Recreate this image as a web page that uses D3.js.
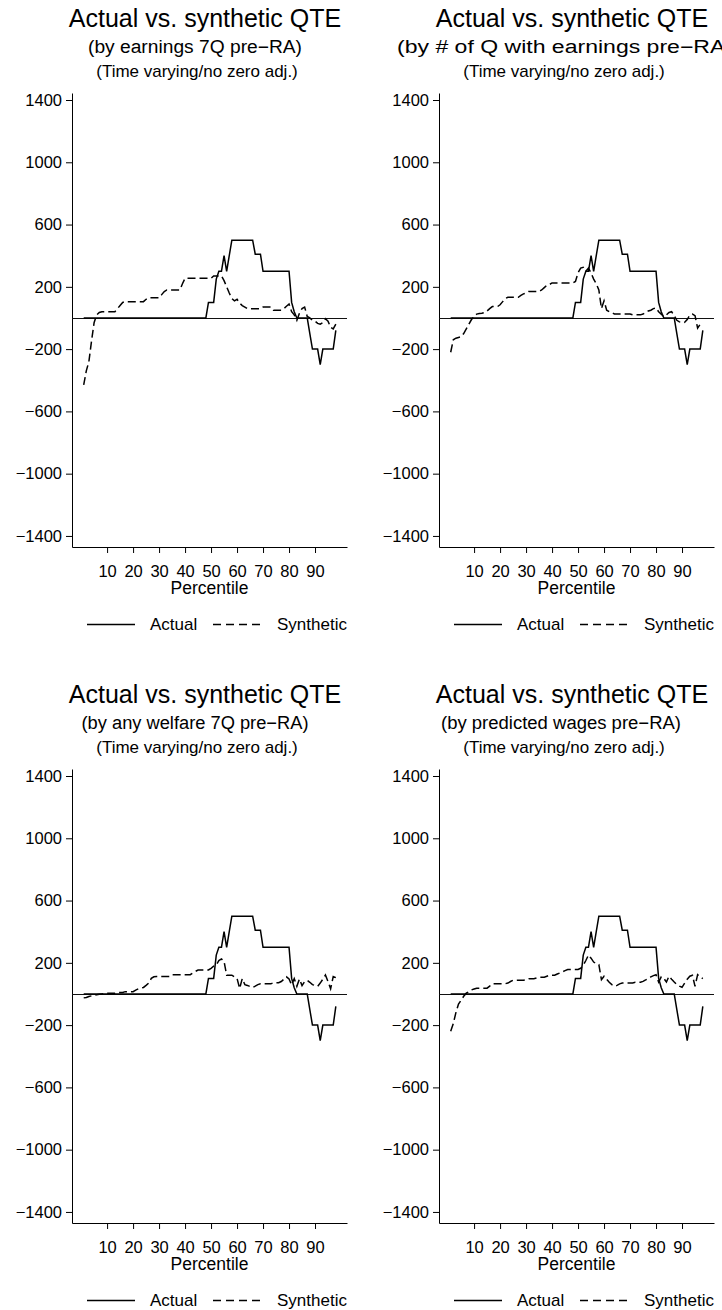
<!DOCTYPE html>
<html>
<head>
<meta charset="utf-8">
<script src="https://cdn.jsdelivr.net/npm/d3@7"></script>
<style>
  body { margin: 0; background: #fff; }
  svg text { font-family: "Liberation Sans", Arial, Helvetica, sans-serif; fill: #000; }
</style>
</head>
<body>
<div id="chart"></div>
<script>
var percentiles = d3.range(1, 99);

var panelTitles = ["Actual vs. synthetic QTE", "Actual vs. synthetic QTE", "Actual vs. synthetic QTE", "Actual vs. synthetic QTE"];
var panelSubtitles = ["(by earnings 7Q pre\u2212RA)", "(by # of Q with earnings pre\u2212RA)", "(by any welfare 7Q pre\u2212RA)", "(by predicted wages pre\u2212RA)"];
var panelNotes = ["(Time varying/no zero adj.)", "(Time varying/no zero adj.)", "(Time varying/no zero adj.)", "(Time varying/no zero adj.)"];

var yTicks = [-1400, -1000, -600, -200, 200, 600, 1000, 1400];
var xTicks = [10, 20, 30, 40, 50, 60, 70, 80, 90];
var legendLabels = ["Actual", "Synthetic"];

// actual QTE, percentiles 1..98 (same in every panel)
var actual = [
  0, 0, 0, 0, 0, 0, 0, 0, 0, 0,
  0, 0, 0, 0, 0, 0, 0, 0, 0, 0,
  0, 0, 0, 0, 0, 0, 0, 0, 0, 0,
  0, 0, 0, 0, 0, 0, 0, 0, 0, 0,
  0, 0, 0, 0, 0, 0, 0, 0, 100, 100,
  100, 250, 300, 300, 400, 300, 400, 500, 500, 500,
  500, 500, 500, 500, 500, 500, 410, 410, 410, 300,
  300, 300, 300, 300, 300, 300, 300, 300, 300, 300,
  100, 40, 0, 0, 0, 0, 0, -100, -200, -200,
  -200, -300, -200, -200, -200, -200, -200, -80
];

var synthEarnings = [
  -430, -340, -280, -150, -30, 20, 35, 40, 40, 40,
  40, 40, 40, 60, 80, 100, 105, 105, 105, 105,
  105, 105, 105, 105, 120, 130, 130, 130, 130, 130,
  150, 170, 180, 180, 180, 180, 180, 180, 220, 255,
  255, 255, 255, 255, 255, 255, 255, 255, 255, 255,
  270, 270, 270, 270, 240, 200, 160, 125, 110, 120,
  95, 80, 70, 60, 60, 60, 60, 60, 60, 70,
  70, 70, 70, 50, 50, 50, 50, 60, 75, 90,
  40, 20, -15, 30, 60, 70, 10, 0, -15, -20,
  -35, -40, -30, -5, -20, -60, -70, -40
];

var synthQuarters = [
  -220, -140, -130, -125, -120, -100, -70, -40, -10, 10,
  25, 28, 30, 35, 45, 60, 73, 73, 73, 85,
  105, 125, 133, 133, 133, 133, 133, 145, 155, 160,
  170, 170, 170, 170, 170, 180, 195, 210, 215, 225,
  225, 225, 225, 225, 225, 225, 225, 225, 235, 290,
  320, 325, 300, 320, 290, 250, 220, 180, 60, 110,
  50, 40, 35, 25, 25, 25, 25, 25, 25, 25,
  20, 20, 20, 20, 25, 35, 45, 50, 60, 65,
  40, 25, 10, 20, 35, 40, 15, -15, -25, -30,
  -28, -10, 20, 25, 15, -65, -40, -30
];

var synthWelfare = [
  -25, -22, -16, -12, -8, -5, -2, 0, 2, 5,
  5, 5, 5, 9, 9, 9, 15, 15, 15, 15,
  25, 33, 38, 42, 55, 70, 100, 110, 112, 112,
  112, 112, 112, 112, 124, 124, 124, 124, 124, 124,
  124, 124, 135, 145, 154, 154, 154, 154, 154, 165,
  178, 186, 215, 225, 209, 121, 121, 121, 110, 100,
  35, 99, 60, 55, 48, 42, 50, 60, 65, 65,
  65, 65, 65, 72, 72, 72, 80, 95, 110, 96,
  58, 99, 49, 96, 54, 80, 88, 75, 60, 55,
  49, 70, 95, 122, 80, 34, 112, 105
];

var synthWages = [
  -240, -190, -120, -65, -40, -15, 5, 15, 26, 32,
  37, 37, 37, 37, 37, 50, 66, 66, 66, 66,
  66, 66, 70, 80, 88, 88, 88, 88, 88, 92,
  98, 98, 98, 103, 108, 108, 108, 114, 120, 120,
  120, 128, 135, 142, 150, 157, 157, 157, 157, 157,
  165, 185, 215, 250, 230, 205, 195, 189, 92, 114,
  95, 75, 60, 50, 55, 65, 70, 70, 70, 70,
  70, 75, 75, 75, 81, 90, 100, 110, 118, 124,
  77, 110, 100, 77, 114, 95, 77, 60, 50, 43,
  70, 95, 114, 120, 49, 124, 110, 98
];

var synthetic = [synthEarnings, synthQuarters, synthWelfare, synthWages];

// rendered width and centre of the second title line in each panel
var subtitleWidth = [214, 336, 227, 240];
var subtitleCentre = [195, 198, 195, 194];

var svg = d3.select("#chart")
      .append("svg")
      .attr("width", 722)
      .attr("height", 1310);

function drawPanel(k, ox, oy){
  var g = svg.append("g")
        .attr("transform", "translate(" + ox + "," + oy + ")");

  var x = d3.scaleLinear().domain([-3.5, 102.3]).range([72, 347]);
  var y = d3.scaleLinear().domain([-1471, 1445]).range([547, 93]);

  g.append("text")
    .attr("x", 205).attr("y", 27)
    .attr("text-anchor", "middle")
    .style("font-size", "25px")
    .text(panelTitles[k]);
  g.append("text")
    .attr("x", subtitleCentre[k]).attr("y", 53)
    .attr("text-anchor", "middle")
    .attr("textLength", subtitleWidth[k])
    .attr("lengthAdjust", "spacingAndGlyphs")
    .style("font-size", "18px")
    .text(panelSubtitles[k]);
  g.append("text")
    .attr("x", 197).attr("y", 77)
    .attr("text-anchor", "middle")
    .style("font-size", "17px")
    .text(panelNotes[k]);

  var yAxis = g.append("g")
        .attr("transform", "translate(72,0)")
        .call(d3.axisLeft(y).tickValues(yTicks).tickSize(6).tickSizeOuter(0).tickPadding(4)
              .tickFormat(function(d){ return d < 0 ? "\u2212" + Math.abs(d) : d; }));
  var xAxis = g.append("g")
        .attr("transform", "translate(0,547)")
        .call(d3.axisBottom(x).tickValues(xTicks).tickSize(6).tickSizeOuter(0).tickPadding(12));

  [yAxis, xAxis].forEach(function(a){
    a.selectAll("text").style("font-size", "16.5px").attr("fill", "#000");
    a.selectAll("line").attr("stroke", "#000");
    a.select(".domain").attr("stroke", "#000");
  });

  g.append("text")
    .attr("x", 209.5).attr("y", 594)
    .attr("text-anchor", "middle")
    .style("font-size", "17.5px")
    .text("Percentile");

  // zero reference line
  g.append("line")
    .attr("x1", x(-3.5)).attr("x2", x(102.3))
    .attr("y1", Math.round(y(0)) + 0.5).attr("y2", Math.round(y(0)) + 0.5)
    .attr("stroke", "#111")
    .attr("stroke-width", 1.2);

  var line = d3.line()
        .x(function(d, i){ return x(percentiles[i]); })
        .y(function(d){ return y(d); });

  g.append("path")
    .datum(synthetic[k])
    .attr("d", line)
    .attr("fill", "none")
    .attr("stroke", "#000")
    .attr("stroke-width", 1.5)
    .attr("stroke-dasharray", "8,4");

  g.append("path")
    .datum(actual)
    .attr("d", line)
    .attr("fill", "none")
    .attr("stroke", "#000")
    .attr("stroke-width", 1.5);

  // legend
  var lg = g.append("g").attr("class", "legend");
  lg.append("line")
    .attr("x1", 87).attr("x2", 135).attr("y1", 624.5).attr("y2", 624.5)
    .attr("stroke", "#000").attr("stroke-width", 1.5);
  lg.append("text")
    .attr("x", 150).attr("y", 629.5)
    .style("font-size", "17px")
    .text(legendLabels[0]);
  lg.append("line")
    .attr("x1", 213).attr("x2", 263).attr("y1", 624.5).attr("y2", 624.5)
    .attr("stroke", "#000").attr("stroke-width", 1.5)
    .attr("stroke-dasharray", "8,5");
  lg.append("text")
    .attr("x", 277).attr("y", 629.5)
    .style("font-size", "17px")
    .text(legendLabels[1]);
}

drawPanel(0, 0, 0);
drawPanel(1, 367, 0);
drawPanel(2, 0, 676);
drawPanel(3, 367, 676);
</script>
</body>
</html>
